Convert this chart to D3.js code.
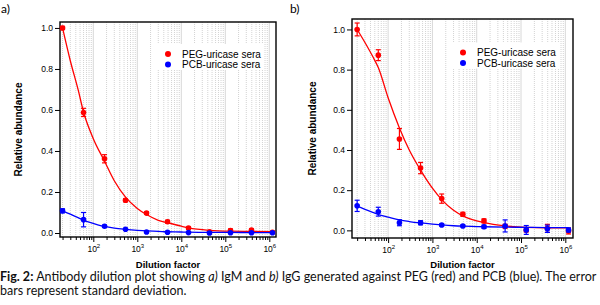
<!DOCTYPE html>
<html>
<head>
<meta charset="utf-8">
<script src="https://cdn.jsdelivr.net/npm/d3@7"></script>
<style>
  body { margin: 0; background: #fff; }
  svg { display: block; }
</style>
</head>
<body>
<svg id="fig" width="600" height="305"></svg>
<script>
// dilution series (x values of the measured points)
const dilution = [20, 60, 180, 540, 1620, 4860, 14580, 43740, 131220, 393660, 1180980];

// a) IgM
const pegA    = [1.0, 0.588, 0.362, 0.16, 0.097, 0.055, 0.024, 0.006, 0.012, 0.014, 0.004];
const pegAErr = [0.008, 0.02, 0.02, 0.008, 0.006, 0.007, 0.006, 0.005, 0.008, 0.006, 0.005];
const pcbA    = [0.108, 0.065, 0.033, 0.018, 0.005, 0.004, 0.002, 0.0, 0.001, 0.001, 0.001];
const pcbAErr = [0.01, 0.035, 0.005, 0.004, 0.003, 0.003, 0.003, 0.003, 0.003, 0.003, 0.003];

// b) IgG
const pegB    = [1.0, 0.872, 0.455, 0.31, 0.158, 0.08, 0.047, 0.02, 0.002, 0.01, -0.003];
const pegBErr = [0.032, 0.027, 0.052, 0.028, 0.023, 0.01, 0.01, 0.01, 0.01, 0.02, 0.015];
const pcbB    = [0.122, 0.093, 0.038, 0.038, 0.027, 0.022, 0.018, 0.022, 0.002, 0.008, 0.002];
const pcbBErr = [0.028, 0.022, 0.015, 0.01, 0.005, 0.004, 0.008, 0.03, 0.022, 0.018, 0.01];

// fitted curves at these dilutions
const fitX    = [20, 30, 45, 60, 100, 180, 300, 540, 1000, 1620, 3000, 4860, 10000, 14580, 43740, 131220, 393660, 1180980];
const fitPegA = [1.0, 0.84, 0.70, 0.59, 0.46, 0.35, 0.255, 0.175, 0.12, 0.09, 0.062, 0.05, 0.033, 0.025, 0.013, 0.009, 0.008, 0.007];
const fitPcbA = [0.108, 0.092, 0.075, 0.062, 0.047, 0.032, 0.024, 0.018, 0.013, 0.01, 0.008, 0.006, 0.005, 0.004, 0.003, 0.003, 0.002, 0.002];
const fitPegB = [1.0, 0.935, 0.865, 0.81, 0.66, 0.51, 0.40, 0.30, 0.21, 0.153, 0.10, 0.072, 0.047, 0.038, 0.022, 0.015, 0.013, 0.013];
const fitPcbB = [0.12, 0.105, 0.09, 0.079, 0.066, 0.052, 0.044, 0.037, 0.031, 0.027, 0.023, 0.021, 0.019, 0.018, 0.016, 0.015, 0.014, 0.014];

const yTicks = [0, 0.2, 0.4, 0.6, 0.8, 1.0];
const xMajor = [1e2, 1e3, 1e4, 1e5, 1e6];
const seriesNames = ["PEG-uricase sera", "PCB-uricase sera"];
const RED = "#ff0000", BLUE = "#0000ff";

const svg = d3.select("#fig");
const FONT = "'Liberation Sans', Arial, sans-serif";

// minor log ticks between 10 and 10^7
const minorTicks = [];
for (let e = 1; e <= 6; e++) for (let m = 2; m <= 9; m++) minorTicks.push(m * 10 ** e);

const panels = [
  { tag: "a)", tagX: 1, left: 60, right: 276, top: 22, bottom: 237,
    xDom: [17.5, 1.42e6], yDom: [-0.0195, 1.029], yLabX: 18,
    peg: pegA, pegErr: pegAErr, pcb: pcbA, pcbErr: pcbAErr, fitPeg: fitPegA, fitPcb: fitPcbA,
    legX: 168, legY: 54 },
  { tag: "b)", tagX: 290, left: 352, right: 573, top: 19, bottom: 238,
    xDom: [15.3, 1.49e6], yDom: [-0.038, 1.052], yLabX: 312,
    peg: pegB, pegErr: pegBErr, pcb: pcbB, pcbErr: pcbBErr, fitPeg: fitPegB, fitPcb: fitPcbB,
    legX: 463, legY: 52.5 }
];

panels.forEach(p => {
  const x = d3.scaleLog().domain(p.xDom).range([p.left, p.right]);
  const y = d3.scaleLinear().domain(p.yDom).range([p.bottom, p.top]);
  const g = svg.append("g");

  // grid lines at every decade tick
  const inRange = minorTicks.filter(t => t > p.xDom[0] && t < p.xDom[1]);
  g.append("g").selectAll("line")
    .data(inRange)
    .join("line")
      .attr("x1", d => x(d)).attr("x2", d => x(d))
      .attr("y1", p.top).attr("y2", p.bottom)
      .attr("stroke", "#c8c8c8")
      .attr("stroke-width", 0.8)
      .attr("stroke-dasharray", "1,1");
  g.append("g").selectAll("line")
    .data(xMajor.filter(t => t < p.xDom[1]))
    .join("line")
      .attr("x1", d => x(d)).attr("x2", d => x(d))
      .attr("y1", p.top).attr("y2", p.bottom)
      .attr("stroke", "#d8d8d8")
      .attr("stroke-width", 1);

  // legend background hides the grid
  g.append("rect")
    .attr("x", p.legX - 12).attr("y", p.legY - 10)
    .attr("width", 108).attr("height", 26)
    .attr("fill", "#fff");

  // x axis: minor then major ticks
  g.append("g")
    .attr("transform", `translate(0,${p.bottom})`)
    .call(d3.axisBottom(x).tickValues(inRange).tickSize(3).tickFormat(""))
    .call(a => a.select(".domain").remove())
    .call(a => a.selectAll("line").attr("stroke-width", 1));
  const xa = g.append("g")
    .attr("transform", `translate(0,${p.bottom})`)
    .call(d3.axisBottom(x).tickValues(xMajor.filter(t => t < p.xDom[1])).tickSize(5).tickFormat(""));
  xa.select(".domain").remove();
  xa.selectAll("line").attr("stroke-width", 1);
  xa.selectAll(".tick").append("text")
    .attr("y", 15)
    .attr("fill", "#000")
    .attr("font-family", FONT)
    .attr("font-size", 8.5)
    .attr("text-anchor", "middle")
    .call(t => t.append("tspan").text("10"))
    .call(t => t.append("tspan")
      .attr("dy", -4).attr("font-size", 6)
      .text(d => Math.round(Math.log10(d))));

  // y axis
  const ya = g.append("g")
    .attr("transform", `translate(${p.left},0)`)
    .call(d3.axisLeft(y).tickValues(yTicks).tickSize(5).tickPadding(2).tickFormat(d3.format(".1f")));
  ya.select(".domain").remove();
  ya.selectAll("text").attr("font-family", FONT).attr("font-size", 8.5).attr("fill", "#000");
  ya.selectAll("line").attr("stroke-width", 1);

  // frame
  g.append("rect")
    .attr("x", p.left).attr("y", p.top)
    .attr("width", p.right - p.left).attr("height", p.bottom - p.top)
    .attr("fill", "none").attr("stroke", "#000").attr("stroke-width", 1.4);

  const line = d3.line()
    .x((d, i) => x(fitX[i]))
    .y(d => y(d))
    .curve(d3.curveMonotoneX);

  const series = [
    { vals: p.peg, err: p.pegErr, fit: p.fitPeg, color: RED },
    { vals: p.pcb, err: p.pcbErr, fit: p.fitPcb, color: BLUE }
  ];

  series.forEach(s => {
    g.append("path")
      .attr("d", line(s.fit))
      .attr("fill", "none")
      .attr("stroke", s.color)
      .attr("stroke-width", 1.3);

    const pts = g.append("g").selectAll("g")
      .data(dilution.map((d, i) => ({ d, v: s.vals[i], e: s.err[i] })))
      .join("g")
        .attr("stroke", s.color)
        .attr("fill", s.color);
    pts.append("line")
      .attr("x1", d => x(d.d)).attr("x2", d => x(d.d))
      .attr("y1", d => y(d.v - d.e)).attr("y2", d => y(d.v + d.e))
      .attr("stroke-width", 1.2);
    [-1, 1].forEach(k => {
      pts.append("line")
        .attr("x1", d => x(d.d) - 2.5).attr("x2", d => x(d.d) + 2.5)
        .attr("y1", d => y(d.v + k * d.e)).attr("y2", d => y(d.v + k * d.e))
        .attr("stroke-width", 1.2);
    });
    pts.append("circle")
      .attr("cx", d => x(d.d)).attr("cy", d => y(d.v))
      .attr("r", 2.8)
      .attr("stroke", "none");
  });

  // legend
  [RED, BLUE].forEach((c, i) => {
    g.append("circle")
      .attr("cx", p.legX).attr("cy", p.legY + i * 10.5)
      .attr("r", 3).attr("fill", c);
    g.append("text")
      .attr("x", p.legX + 14).attr("y", p.legY + i * 10.5 + 3.5)
      .attr("font-family", FONT).attr("font-size", 10)
      .text(seriesNames[i]);
  });

  // axis titles
  g.append("text")
    .attr("transform", `translate(${p.yLabX},${(p.top + p.bottom) / 2}) rotate(-90)`)
    .attr("dy", "0.35em")
    .attr("text-anchor", "middle")
    .attr("font-family", FONT).attr("font-size", 10).attr("font-weight", "bold")
    .text("Relative abundance");
  g.append("text")
    .attr("x", (p.left + p.right) / 2).attr("y", 268)
    .attr("text-anchor", "middle")
    .attr("font-family", FONT).attr("font-size", 9.5).attr("font-weight", "bold")
    .text("Dilution factor");

  // panel tag
  svg.append("text")
    .attr("x", p.tagX).attr("y", 13)
    .attr("font-family", "Lato, 'Open Sans', sans-serif").attr("font-size", 12)
    .text(p.tag);
});

// caption
const CAP = "Lato, 'Open Sans', sans-serif";
const cap1 = svg.append("text")
  .attr("x", 0).attr("y", 281)
  .attr("font-family", CAP).attr("font-size", 12.5).attr("fill", "#111");
cap1.append("tspan").attr("font-weight", "bold").text("Fig. 2:");
cap1.append("tspan").text(" Antibody dilution plot showing ");
cap1.append("tspan").attr("font-style", "italic").text("a)");
cap1.append("tspan").text(" IgM and ");
cap1.append("tspan").attr("font-style", "italic").text("b)");
cap1.append("tspan").text(" IgG generated against PEG (red) and PCB (blue). The error");
const w = cap1.node().getComputedTextLength();
const fs = 12.5 * 597 / w;
cap1.attr("font-size", fs);
svg.append("text")
  .attr("x", 0).attr("y", 295)
  .attr("font-family", CAP).attr("font-size", fs).attr("fill", "#111")
  .text("bars represent standard deviation.");
</script>
</body>
</html>
